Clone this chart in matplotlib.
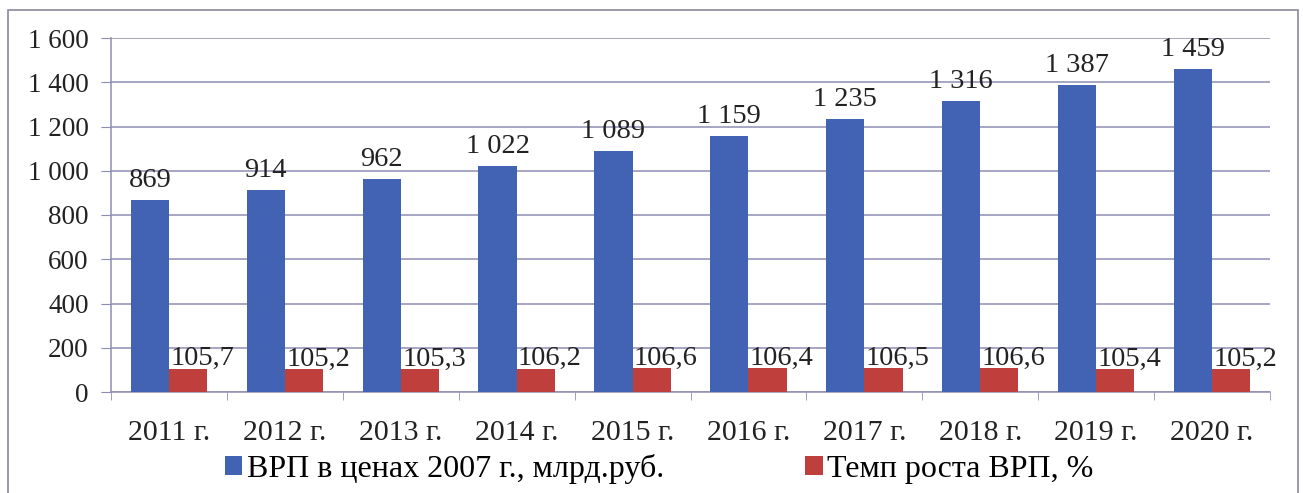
import matplotlib
matplotlib.use("Agg")
import matplotlib.pyplot as plt
from matplotlib.font_manager import FontProperties
import numpy as np
from matplotlib.patches import Rectangle

years = ["2011 г.", "2012 г.", "2013 г.", "2014 г.", "2015 г.",
         "2016 г.", "2017 г.", "2018 г.", "2019 г.", "2020 г."]
grp = [869, 914, 962, 1022, 1089, 1159, 1235, 1316, 1387, 1459]
growth = [105.7, 105.2, 105.3, 106.2, 106.6, 106.4, 106.5, 106.6, 105.4, 105.2]
grp_labels = ["869", "914", "962", "1 022", "1 089", "1 159", "1 235", "1 316", "1 387", "1 459"]
growth_labels = ["105,7", "105,2", "105,3", "106,2", "106,6", "106,4", "106,5", "106,6", "105,4", "105,2"]
yticks = [0, 200, 400, 600, 800, 1000, 1200, 1400, 1600]
ytick_labels = ["0", "200", "400", "600", "800", "1 000", "1 200", "1 400", "1 600"]
series_names = ["ВРП в ценах 2007 г., млрд.руб.", "Темп роста ВРП, %"]

FAM = ['Liberation Serif', 'DejaVu Serif']
plt.rcParams['font.family'] = FAM

BLUE = "#4263b3"
RED = "#bf3f3c"
GRID = "#8e8eb4"
TXT = "#222222"

fig = plt.figure(figsize=(13.03, 4.93), dpi=100)
fig.patches.append(Rectangle((8/1303, -0.05), (1298-8)/1303, 1 - 10/493 + 0.05,
                             transform=fig.transFigure, fill=False,
                             edgecolor="#8a8a9a", linewidth=1.2))

ax = fig.add_axes([111/1303, 1 - 392/493, (1270-111)/1303, (392-38)/493])
x = np.arange(len(years))
w = 0.33
b1 = ax.bar(x - w/2, grp, w, color=BLUE, label=series_names[0], zorder=3)
b2 = ax.bar(x + w/2, growth, w, color=RED, label=series_names[1], zorder=3)

for xi, v, lab in zip(x, grp, grp_labels):
    ax.annotate(lab, (xi - w/2, v), xytext=(0, 5), textcoords="offset points",
                ha="center", va="bottom", fontsize=20.5, color=TXT, family=FAM)
for xi, v, lab in zip(x, growth, growth_labels):
    ax.annotate(lab, (xi, v), xytext=(1, -2), textcoords="offset points",
                ha="left", va="bottom", fontsize=20.5, color=TXT, family=FAM)

ax.set_xlim(-0.5, len(years) - 0.5)
ax.set_ylim(0, 1600)
ax.set_yticks(yticks)
ax.set_yticklabels(ytick_labels, fontsize=19.5, color=TXT, family=FAM)
ax.set_xticks(x)
ax.set_xticklabels(years, fontsize=21.5, color=TXT, family=FAM)
ax.set_xticks(np.arange(-0.5, len(years)), minor=True)
ax.tick_params(axis="x", which="major", length=0, pad=20)
ax.tick_params(axis="x", which="minor", length=6, color=GRID, direction="out")
ax.tick_params(axis="y", length=7, color=GRID, pad=9)
ax.yaxis.grid(True, color=GRID, linewidth=1.1, zorder=0)
ax.set_axisbelow(True)
for s in ["top", "right"]:
    ax.spines[s].set_visible(False)
ax.spines["left"].set_color(GRID)
ax.spines["bottom"].set_color(GRID)
ax.spines["left"].set_linewidth(1.1)
ax.spines["bottom"].set_linewidth(1.1)

fig.legend(handles=[b1, b2], labels=series_names, loc="center",
           bbox_to_anchor=(0.506, 1 - 469/493), ncol=2, frameon=False,
           prop=FontProperties(family=FAM, size=23),
           handlelength=0.55, handleheight=0.55, handletextpad=0.15,
           columnspacing=4.4, borderaxespad=0)

fig.savefig("out.png", dpi=100)
